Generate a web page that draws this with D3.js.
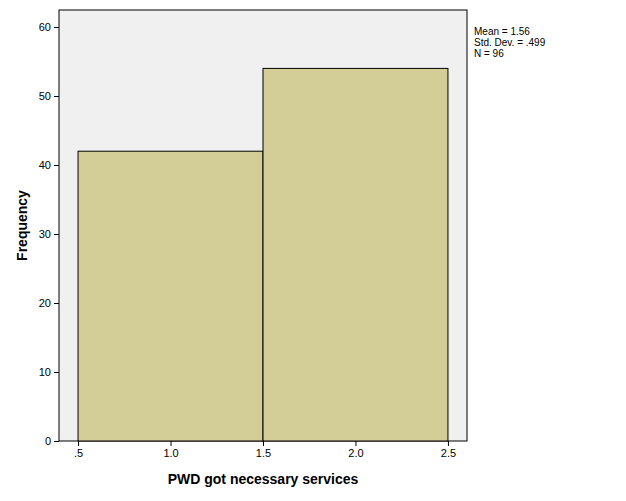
<!DOCTYPE html>
<html>
<head>
<script src="https://cdn.jsdelivr.net/npm/d3@7"></script>
<style>body{margin:0;background:#fff;font-family:"Liberation Sans",Arial,sans-serif;}</style>
</head>
<body>
<svg width="626" height="501"></svg>
<script>
const binStarts = [0.5, 1.5];
const binEnds = [1.5, 2.5];
const freqs = [42, 54];
const xTicks = [0.5, 1.0, 1.5, 2.0, 2.5];
const yTicks = [0, 10, 20, 30, 40, 50, 60];
const stats = ['Mean = 1.56', 'Std. Dev. = .499', 'N = 96'];

const svg = d3.select('svg');
const L = 59, R = 467, T = 10, B = 441;

const x = d3.scaleLinear().domain([0.397, 2.603]).range([L, R]);
const y = d3.scaleLinear().domain([0, 60]).range([B, 27]);

svg.append('rect').attr('x', L).attr('y', T).attr('width', R - L).attr('height', B - T)
    .attr('fill', '#f0f0f0').attr('stroke', '#000').attr('stroke-width', 1);

svg.selectAll('.bar').data(freqs).enter().append('rect')
    .attr('class', 'bar')
    .attr('x', (d, i) => x(binStarts[i]))
    .attr('width', (d, i) => x(binEnds[i]) - x(binStarts[i]))
    .attr('y', d => y(d))
    .attr('height', d => B - y(d))
    .attr('fill', '#d3ce97').attr('stroke', '#000').attr('stroke-width', 1);

const fmtX = d => d === 0.5 ? '.5' : d3.format('.1f')(d);
const xAxis = svg.append('g').attr('transform', 'translate(0,' + B + ')')
    .call(d3.axisBottom(x).tickValues(xTicks).tickFormat(fmtX).tickSize(5).tickSizeOuter(0));
const yAxis = svg.append('g').attr('transform', 'translate(' + L + ',0)')
    .call(d3.axisLeft(y).tickValues(yTicks).tickSize(5).tickSizeOuter(0));
[xAxis, yAxis].forEach(g => {
    g.select('.domain').remove();
    g.selectAll('text').attr('font-family', '"Liberation Sans",Arial,sans-serif').attr('font-size', 11).attr('fill', '#000');
    g.selectAll('line').attr('stroke', '#000');
});

svg.append('text').attr('x', x(1.5)).attr('y', 484).attr('text-anchor', 'middle')
    .attr('font-size', 14).attr('font-weight', 'bold').text('PWD got necessary services');
svg.append('text').attr('transform', 'translate(27,' + ((T + B) / 2) + ') rotate(-90)')
    .attr('text-anchor', 'middle').attr('font-size', 14).attr('font-weight', 'bold').text('Frequency');

svg.selectAll('.stat').data(stats).enter().append('text')
    .attr('x', 474).attr('y', (d, i) => 35 + i * 11)
    .attr('font-size', 10).text(d => d);
</script>
</body>
</html>
